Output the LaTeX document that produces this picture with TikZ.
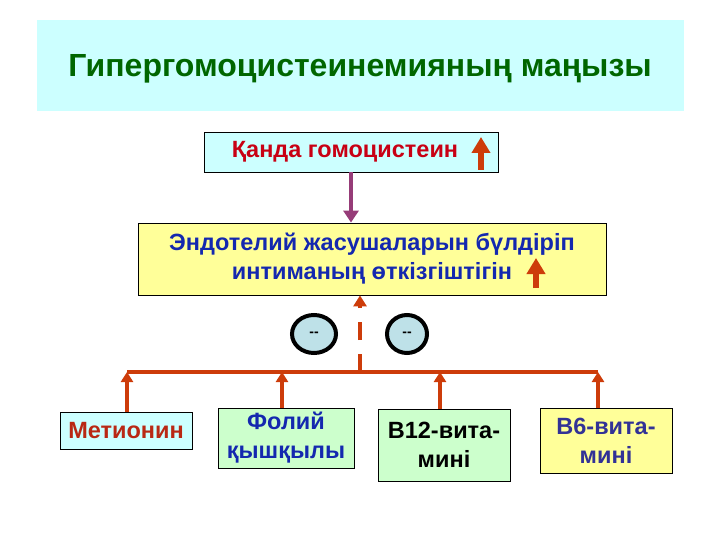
\documentclass[tikz,border=0pt]{standalone}
\usepackage{fontspec}
\setmainfont{Liberation Sans}
\usepackage{xcolor}
\usetikzlibrary{arrows.meta, positioning, shapes.geometric}
\definecolor{titlebg}{RGB}{204, 255, 255}
\definecolor{titlefg}{RGB}{0, 102, 0}
\definecolor{bloodfg}{RGB}{200, 0, 20}
\definecolor{linkred}{RGB}{205, 60, 10}
\definecolor{plum}{RGB}{150, 60, 120}
\definecolor{paleyel}{RGB}{255, 255, 153}
\definecolor{palegrn}{RGB}{204, 255, 204}
\definecolor{ovalbg}{RGB}{190, 225, 232}
\definecolor{bluefg}{RGB}{20, 40, 175}
\definecolor{navyfg}{RGB}{50, 50, 150}
\definecolor{methfg}{RGB}{185, 40, 20}

\tikzset{
  box/.style={draw=black, line width=0.8pt, inner sep=2pt,
              font=\fontsize{23.5}{29}\selectfont\bfseries, align=center},
  blockup/.style={-{Triangle[width=18pt, length=16pt]}, line width=6pt, linkred},
  busline/.style={line width=3.5pt, linkred},
  busarrow/.style={-{Triangle[width=12pt, length=10pt]}, line width=3.5pt, linkred},
  inhib/.style={ellipse, draw=black, line width=4pt, fill=ovalbg, minimum height=38pt,
                inner sep=0pt, font=\fontsize{14}{14}\selectfont\bfseries},
}

\begin{document}
\begin{tikzpicture}[x=1pt, y=-1pt]
  \useasboundingbox (0,0) rectangle (720,540);

  % Title
  \fill[titlebg] (37,20) rectangle (684,111);
  \node[titlefg, font=\fontsize{32}{36}\selectfont\bfseries] (title) at (360,69)
    {Гипергомоцистеинемияның маңызы};

  % Homocysteine in blood
  \node[box, fill=titlebg, text=bloodfg, minimum width=294pt, minimum height=40pt]
    (blood) at (351,152) {Қанда гомоцистеин\hspace{12pt}};
  \draw[blockup] (481,170) -- (481,137);

  % Endothelium
  \node[box, fill=paleyel, text=bluefg, minimum width=468pt, minimum height=72pt]
    (endo) at (372,259) {Эндотелий жасушаларын бүлдіріп\\
                         интиманың өткізгіштігін\hspace{40pt}};
  \draw[blockup] (536,288) -- (536,258);
  \draw[-{Triangle[width=15pt, length=12pt]}, line width=4.5pt, plum]
    (blood.south) -- (blood.south |- endo.north);

  % Inhibition marks
  \node[inhib, minimum width=44pt] (oval1) at (314,334) {{-}{-}};
  \node[inhib, minimum width=40pt] (oval2) at (407,334) {{-}{-}};

  % Factors
  \node[box, fill=titlebg, text=methfg, minimum width=132pt, minimum height=37pt]
    (meth) at (126,431) {Метионин};
  \node[box, fill=palegrn, text=bluefg, minimum width=136pt, minimum height=60pt]
    (folic) at (286,438) {Фолий\\қышқылы};
  \node[box, fill=palegrn, text=black, minimum width=132pt, minimum height=72pt]
    (vitb12) at (444,445) {B12-вита-\\мині};
  \node[box, fill=paleyel, text=navyfg, minimum width=132pt, minimum height=65pt]
    (vitb6) at (606,441) {B6-вита-\\мині};

  % Bus
  \coordinate (busl) at (127,372);
  \coordinate (busr) at (598,372);
  \coordinate (busmid) at (360,372);
  \draw[busline] (busl) -- (busr);
  \draw[busarrow] ([xshift=1pt]meth.north) -- ([xshift=1pt]meth.north |- busl);
  \draw[busarrow] ([xshift=-4pt]folic.north) -- ([xshift=-4pt]folic.north |- busl);
  \draw[busarrow] ([xshift=-4pt]vitb12.north) -- ([xshift=-4pt]vitb12.north |- busl);
  \draw[busarrow] ([xshift=-8pt]vitb6.north) -- ([xshift=-8pt]vitb6.north |- busl);
  \draw[-{Triangle[width=13pt, length=11pt]}, line width=4pt, linkred,
        dash pattern=on 18pt off 14pt]
    (busmid) -- (busmid |- endo.south);
\end{tikzpicture}
\end{document}
